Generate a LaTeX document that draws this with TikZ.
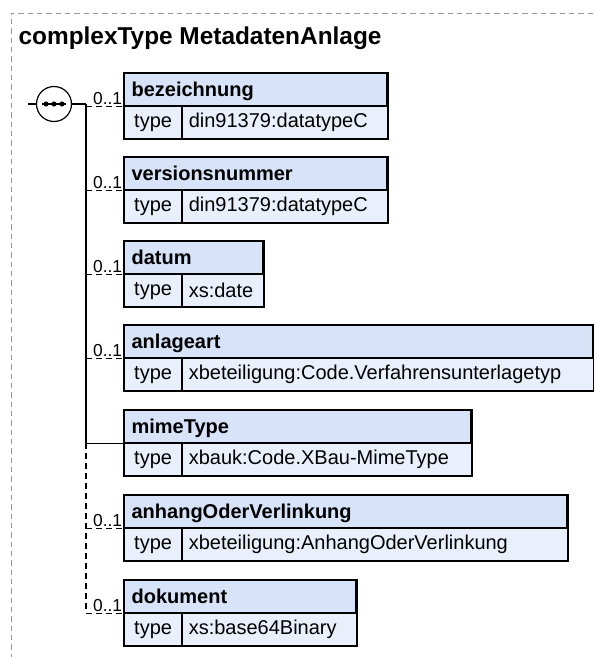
\documentclass[tikz,border=0pt]{standalone}
\usepackage{fontspec}
\setmainfont{Liberation Sans}
\usetikzlibrary{positioning}

\definecolor{hdrblue}{RGB}{214,227,248}
\definecolor{typeblue}{RGB}{233,240,252}
\definecolor{framegray}{RGB}{150,150,150}

\newcommand{\pxu}{0.75pt}

\tikzset{
  hdr/.style={draw, fill=hdrblue, anchor=north west, minimum height=32*\pxu,
    inner sep=0pt, inner xsep=7*\pxu, align=left, text depth=0pt,
    font=\fontsize{15}{17}\selectfont\bfseries},
  typecell/.style={draw, fill=typeblue, anchor=north west, minimum height=32*\pxu,
    minimum width=57*\pxu, inner sep=0pt, font=\fontsize{15}{17}\selectfont},
  typeval/.style={draw, fill=typeblue, anchor=north west, minimum height=32*\pxu,
    inner sep=0pt, inner xsep=6*\pxu, font=\fontsize{15}{17}\selectfont},
  boxline/.style={line width=1.6pt},
  mult/.style={anchor=south east, inner sep=1pt, font=\fontsize{13}{15}\selectfont},
  opt/.style={dashed, dash pattern=on 4.5pt off 3pt},
  wire/.style={line width=0.9pt}
}

% element box: name, top, width, label, type
\newcommand{\elembox}[5]{%
  \node[hdr, minimum width=#3*\pxu, text width=#3*\pxu-14*\pxu] (#1) at (124,#2) {#4};
  \node[typecell] (#1T) at (#1.south west) {type};
  \node[typeval, minimum width=#3*\pxu-57*\pxu, text width=#3*\pxu-69*\pxu] (#1V) at (#1T.north east) {#5};
  \draw[boxline] (#1.north west) rectangle (#1V.south east);
}

\begin{document}
\begin{tikzpicture}[x=\pxu, y=-\pxu, line width=0.9pt]
\useasboundingbox (0,0) rectangle (593,657);

% frame and title
\draw[framegray, line width=0.6pt, dash pattern=on 4pt off 3pt] (593,13) -- (11,13) -- (11,657);
\node[anchor=base west, inner sep=0pt, font=\fontsize{18.3}{21}\selectfont\bfseries] (title) at (18,44) {complexType MetadatenAnlage};

% sequence compositor
\node[draw, circle, fill=white, minimum size=35*\pxu, inner sep=0pt] (seq) at (54,104) {};
\draw[wire] (42,104) -- (66,104);
\foreach \dx in {46,54,62} \fill (\dx,104) circle (2.6*\pxu);
\coordinate (in) at (28,104);
\coordinate (trunk) at (86,104);
\draw[wire] (in) -- (seq.west);
\draw[wire] (seq.east) -- (trunk);

% elements
\elembox{bez}{73}{262}{bezeichnung}{din91379:datatypeC}
\elembox{ver}{157}{262}{versionsnummer}{din91379:datatypeC}
\elembox{dat}{241}{138}{datum}{xs:date}
\elembox{art}{325}{468}{anlageart}{xbeteiligung:Code.Verfahrensunterlagetyp}
\elembox{mime}{410}{346}{mimeType}{xbauk:Code.XBau-MimeType}
\elembox{anh}{495}{442}{anhangOderVerlinkung}{xbeteiligung:AnhangOderVerlinkung}
\elembox{dok}{580}{231}{dokument}{xs:base64Binary}

% trunk
\draw[wire] (trunk) -- (trunk |- mime.south west);
\draw[wire, opt] (trunk |- mime.south west) -- (trunk |- dok.south west);

% branches
\draw[wire, opt] (trunk |- bez.south west) -- (bez.south west);
\draw[wire, opt] (trunk |- ver.south west) -- (ver.south west);
\draw[wire, opt] (trunk |- dat.south west) -- (dat.south west);
\draw[wire, opt] (trunk |- art.south west) -- (art.south west);
\draw[wire] (trunk |- mime.south west) -- (mime.south west);
\draw[wire, opt] (trunk |- anh.south west) -- (anh.south west);
\draw[wire, opt] (trunk |- dok.south west) -- (dok.south west);

% multiplicities
\node[mult] (bezM) at (bez.south west) {0..1};
\node[mult] (verM) at (ver.south west) {0..1};
\node[mult] (datM) at (dat.south west) {0..1};
\node[mult] (artM) at (art.south west) {0..1};
\node[mult] (anhM) at (anh.south west) {0..1};
\node[mult] (dokM) at (dok.south west) {0..1};
\end{tikzpicture}
\end{document}
